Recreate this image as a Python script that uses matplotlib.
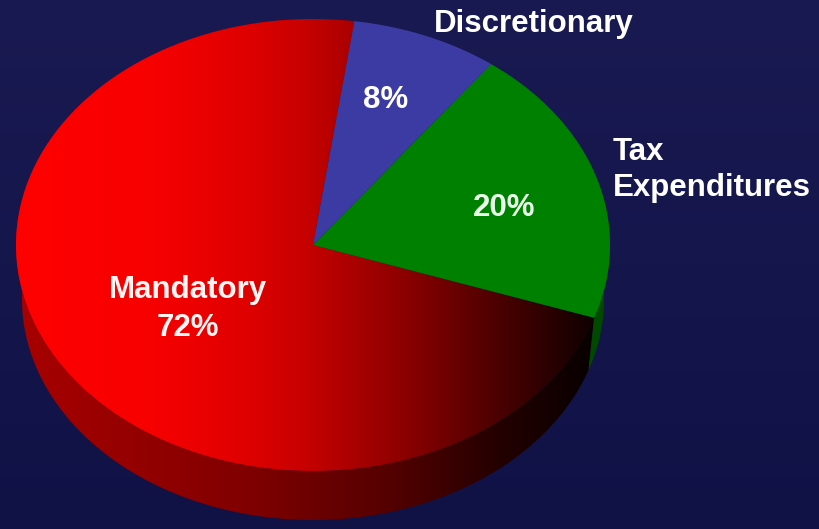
import numpy as np
import matplotlib
matplotlib.use("Agg")
import matplotlib.pyplot as plt
from matplotlib.patches import Polygon

# Chart data
categories = ["Mandatory", "Tax\nExpenditures", "Discretionary"]
shares = [72, 20, 8]
pct_labels = ["72%", "20%", "8%"]

W, H = 820, 529
cx, cy = 313, 245          # centre of the top face (pixels)
rx, ry = 297, 226          # top face radii
bcx, bcy = 313, 299        # centre of the base (slight perspective)
brx, bry = 291, 221        # base radii
start = 82.0               # start angle, counter-clockwise

plt.rcParams['font.family'] = ['Liberation Sans', 'DejaVu Sans']


def arc(t1, t2, base=False, n=300):
    t = np.radians(np.linspace(t1, t2, n))
    if base:
        return np.column_stack([bcx + brx * np.cos(t), bcy - bry * np.sin(t)])
    return np.column_stack([cx + rx * np.cos(t), cy - ry * np.sin(t)])


def shade_img(xp, vp):
    r = np.interp(np.arange(W), xp, vp)
    rgb = np.zeros((H, W, 3))
    rgb[:, :, 0] = r[None, :]
    return rgb


def fill_gradient(ax, pts, img, z):
    poly = Polygon(pts, closed=True, facecolor='none', edgecolor='none', zorder=z)
    ax.add_patch(poly)
    im = ax.imshow(img, extent=(0, W, H, 0), zorder=z, interpolation='bilinear')
    im.set_clip_path(poly)


fig = plt.figure(figsize=(8.2, 5.29), dpi=100)
ax = fig.add_axes([0, 0, 1, 1])

# background
bg = np.zeros((H, W, 3))
v = np.linspace(0, 1, H)[:, None]
bg[:, :, 0] = (0x1a - 0x0a * v) / 255
bg[:, :, 1] = (0x1a - 0x08 * v) / 255
bg[:, :, 2] = (0x52 - 0x0c * v) / 255
ax.imshow(bg, extent=(0, W, H, 0), zorder=0)

# slice angles
spans = np.array(shares) / sum(shares) * 360.0
bounds = start + np.concatenate([[0], np.cumsum(spans)])

red_top = shade_img([15, 150, 250, 300, 400, 500, 585, 610],
                    [1.0, 0.97, 0.87, 0.79, 0.56, 0.29, 0.08, 0.05])
red_side = shade_img([15, 110, 250, 390, 500, 585],
                     [0.66, 0.60, 0.50, 0.33, 0.14, 0.04])

flat = {1: '#008000', 2: '#3b3ba3'}
side_flat = {1: '#004a00', 2: '#26266e'}

# side faces: drawn for each slice, top faces cover the hidden part
for i in range(len(shares)):
    a1, a2 = bounds[i], bounds[i + 1]
    pts = np.vstack([arc(a1, a2), arc(a2, a1, base=True)])
    if i == 0:
        fill_gradient(ax, pts, red_side, 2)
    else:
        ax.add_patch(Polygon(pts, closed=True, facecolor=side_flat[i],
                             edgecolor='none', zorder=2))

# top faces
for i in range(len(shares)):
    a1, a2 = bounds[i], bounds[i + 1]
    pts = np.vstack([[cx, cy], arc(a1, a2)])
    if i == 0:
        fill_gradient(ax, pts, red_top, 3)
    else:
        ax.add_patch(Polygon(pts, closed=True, facecolor=flat[i],
                             edgecolor='none', zorder=3))

txt = dict(fontsize=22.5, fontweight='bold', zorder=5)

ax.text(188, 290, categories[0], color='#fff4f4', ha='center', va='center', **txt)
ax.text(188, 328, pct_labels[0], color='#fff4f4', ha='center', va='center', **txt)
ax.text(504, 208, pct_labels[1], color='#eaffea', ha='center', va='center', **txt)
ax.text(386, 100, pct_labels[2], color='#ffffff', ha='center', va='center', **txt)
ax.text(534, 24, categories[2], color='white', ha='center', va='center', **txt)
ax.text(613, 170, categories[1], color='white', ha='left', va='center',
        linespacing=1.25, **txt)

ax.set_xlim(0, W)
ax.set_ylim(H, 0)
ax.set_aspect('auto')
ax.axis('off')

fig.savefig('out.png', dpi=100)
